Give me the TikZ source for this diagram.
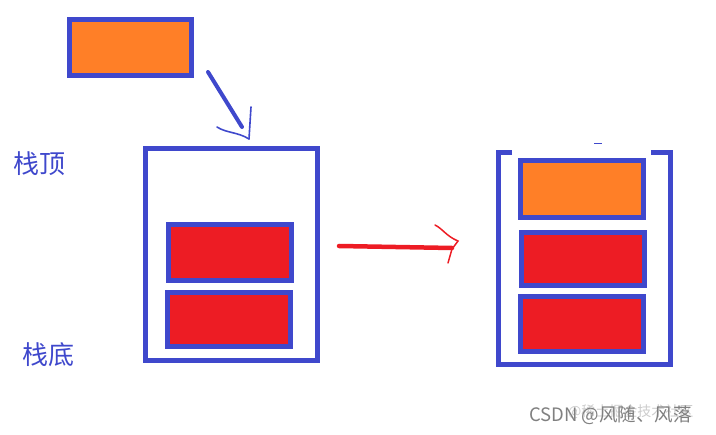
\documentclass[tikz,border=0pt]{standalone}
\usepackage{fontspec}
\newfontfamily\cjk{Noto Sans CJK SC}
\definecolor{pblue}{HTML}{3F48CC}
\definecolor{porange}{HTML}{FF7F27}
\definecolor{pred}{HTML}{ED1C24}
\tikzset{
  blk/.style={draw=pblue, line width=5pt, minimum width=123pt, inner sep=0pt, outer sep=0pt},
  obox/.style={blk, fill=porange},
  rbox/.style={blk, fill=pred},
  lbl/.style={text=pblue, font=\cjk\fontsize{26}{30}\selectfont, inner sep=0pt},
  wm/.style={font=\cjk, inner sep=0pt, anchor=west}
}
\begin{document}
\begin{tikzpicture}[x=1pt,y=-1pt]
\useasboundingbox (0,0) rectangle (716,435);
% top orange box
\node[obox, minimum width=122pt, minimum height=56pt] (top) at (130.5,47.5) {};
% left stack container
\node[draw=pblue, line width=5pt, minimum width=172pt, minimum height=211.5pt, inner sep=0pt] (lc) at (231.5,254.75) {};
\node[rbox, minimum height=56pt] (l1) at (230,252.5) {};
\node[rbox, minimum height=54pt] (l2) at (229,319.5) {};
% labels
\node[lbl] (ttop) at (39,164) {栈顶};
\node[lbl] (tbot) at (48.5,355) {栈底};
% right container (open top)
\coordinate (ra) at (512,153);
\coordinate (rb) at (651,153);
\draw[pblue, line width=5pt] (ra) -- (498.5,153) -- (498.5,364.5) -- (670.5,364.5) -- (670.5,153) -- (rb);
\coordinate (d1) at (594,143.5);
\coordinate (d2) at (602,143.5);
\draw[pblue, line width=1.5pt] (d1) -- (d2);
\node[obox, minimum height=57pt] (r0) at (582,189) {};
\node[rbox, minimum height=53pt] (r1) at (583,259) {};
\node[rbox, minimum height=55pt] (r2) at (582,324) {};
% blue hand arrow
\coordinate (ba) at (208,72);
\coordinate (bb) at (242,127);
\draw[pblue, line width=4pt, line cap=round] (ba) -- (bb);
\coordinate (bh1) at (251,107);
\coordinate (bh2) at (249,139);
\coordinate (bh3) at (217,127);
\draw[pblue, line width=1.6pt, line cap=round] (bh1) -- (bh2);
\draw[pblue, line width=1.6pt, line cap=round] (bh3) .. controls (226,133) and (238,132) .. (bh2);
% red hand arrow
\coordinate (ra1) at (339,246);
\coordinate (ra2) at (452,248);
\draw[pred, line width=4.5pt, line cap=round] (ra1) -- (ra2);
\coordinate (rh1) at (435,225);
\coordinate (rh2) at (458,241);
\coordinate (rh3) at (448,263);
\draw[pred, line width=1.5pt, line cap=round] (rh1) .. controls (443,229) and (446,236) .. (rh2) -- (452,249) -- (rh3);
% watermark
\node[wm, text=black!20, font=\cjk\fontsize{14}{16}\selectfont] (wm2) at (568,412) {@稀土掘金技术社区};
\node[wm, text=black!50, font=\cjk\fontsize{18.5}{21}\selectfont] (wm1) at (529,415) {CSDN @风随、风落};
\end{tikzpicture}
\end{document}
